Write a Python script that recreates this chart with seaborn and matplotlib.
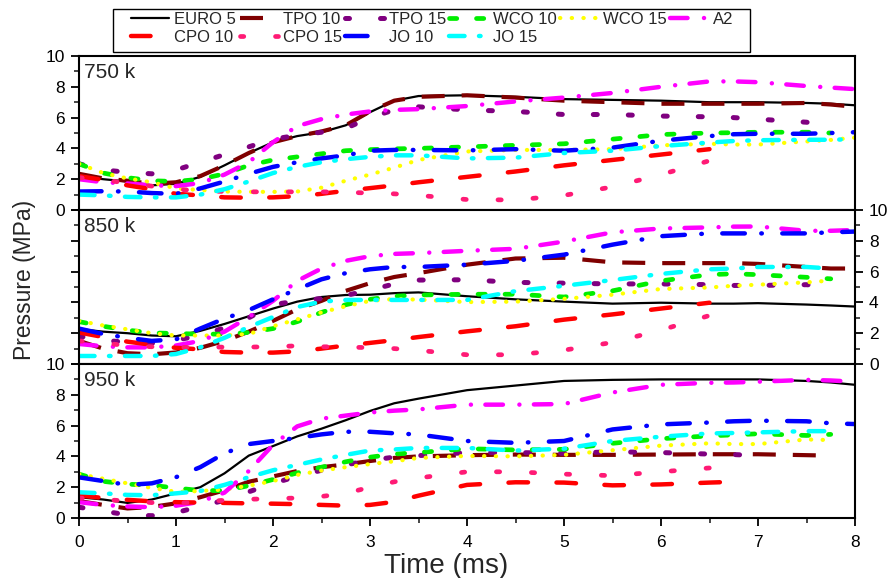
import numpy as np
import pandas as pd
import matplotlib
matplotlib.use("Agg")
import matplotlib.pyplot as plt
from matplotlib.patches import Rectangle
import seaborn as sns

nan = np.nan

# ---------------- data ----------------
time_ms = [0, 0.25, 0.5, 0.75, 1, 1.25, 1.5, 1.75, 2, 2.25, 2.5, 2.75, 3, 3.25, 3.5,
           4, 4.5, 5, 5.5, 6, 6.5, 6.75, 7, 7.5, 7.75, 8]

series_names = ["EURO 5", "TPO 10", "TPO 15", "WCO 10", "WCO 15", "A2",
                "CPO 10", "CPO 15", "JO 10", "JO 15"]
panel_labels = ["750 k", "850 k", "950 k"]

# 750 k
euro5_750 = [2.2, 2.0, 1.85, 1.6, 1.7, 2.15, 2.9, 3.7, 4.4, 4.8, 5.05, 5.5, 6.35, 7.1, 7.4,
             7.45, 7.35, 7.2, 7.15, 7.1, 7.0, 7.0, 7.0, 6.95, 6.9, 6.8]
tpo10_750 = [2.35, 2.05, 1.9, 1.7, 1.8, 2.2, 2.9, 3.7, 4.4, 4.8, 5.1, 5.5, 6.4, 7.1, 7.35,
             7.45, 7.3, 7.1, 7.0, 6.9, 6.9, 6.9, 6.9, 6.95, 6.85, 6.7]
tpo15_750 = [3.0, 2.6, 2.45, 2.35, 2.6, 3.1, 3.6, 4.1, 4.6, 4.85, 5.05, 5.3, 6.0, 6.5, 6.7,
             6.5, 6.4, 6.2, 6.2, 6.1, 6.05, 6.0, 5.9, 5.7, 5.5, nan]
wco10_750 = [3.0, 2.4, 2.1, 1.9, 1.85, 2.0, 2.35, 2.9, 3.25, 3.45, 3.65, 3.85, 3.92, 3.97, 4.0,
             4.1, 4.2, 4.3, 4.6, 4.9, 5.0, 5.02, 5.05, 5.05, 5.0, nan]
wco15_750 = [3.0, 2.4, 2.05, 1.8, 1.4, 1.3, 1.2, 1.18, 1.18, 1.2, 1.45, 1.9, 2.3, 2.75, 3.25,
             3.8, 3.9, 3.9, 3.95, 4.2, 4.3, 4.25, 4.25, 4.45, 4.55, 4.7]
a2_750 = [2.0, 1.8, 1.72, 1.6, 1.55, 1.75, 2.3, 3.1, 4.4, 5.45, 5.9, 6.2, 6.4, 6.5, 6.55,
          6.75, 7.05, 7.3, 7.6, 8.0, 8.35, 8.35, 8.3, 8.05, 7.95, 7.85]
cpo10_750 = [2.2, 1.95, 1.6, 1.35, 1.05, 0.95, 0.82, 0.8, 0.82, 0.9, 1.05, 1.25, 1.42, 1.6, 1.8,
             2.15, 2.5, 2.9, 3.25, 3.6, 3.95, nan, nan, nan, nan, nan]
cpo15_750 = [2.1, 1.95, 1.75, 1.55, 1.35, 1.25, 1.2, 1.18, 1.18, 1.18, 1.18, 1.15, 1.1, 1.05, 0.95,
             0.68, 0.65, 0.95, 1.5, 2.3, 3.2, 3.75, nan, nan, nan, nan]
jo10_750 = [1.2, 1.22, 1.2, 1.1, 1.05, 1.4, 1.85, 2.35, 2.8, 3.1, 3.35, 3.55, 3.85, 3.9, 3.9,
            3.87, 3.95, 3.85, 4.05, 4.5, 4.8, 4.92, 4.95, 4.95, 5.0, 5.05]
jo15_750 = [1.0, 0.95, 0.85, 0.82, 0.82, 1.0, 1.35, 1.85, 2.4, 2.8, 3.1, 3.3, 3.45, 3.55, 3.55,
            3.35, 3.4, 3.7, 3.85, 4.15, 4.38, 4.48, 4.53, 4.56, 4.56, 4.6]

# 850 k
euro5_850 = [2.27, 2.1, 2.0, 1.85, 1.8, 2.15, 2.6, 3.1, 3.6, 4.05, 4.35, 4.48, 4.5, 4.6, 4.65,
             4.4, 4.2, 4.05, 3.92, 3.98, 3.92, 3.92, 3.95, 3.86, 3.8, 3.73]
tpo10_850 = [1.5, 1.0, 0.7, 0.63, 0.75, 1.05, 1.5, 2.1, 2.8, 3.55, 4.1, 4.75, 5.25, 5.65, 5.9,
             6.45, 6.85, 6.9, 6.6, 6.55, 6.55, 6.55, 6.5, 6.3, 6.2, 6.2]
tpo15_850 = [1.8, 1.55, 1.4, 1.35, 1.55, 1.85, 2.35, 3.0, 3.85, 4.1, 4.25, 4.45, 4.8, 5.2, 5.45,
             5.47, 5.3, 5.25, 5.2, 5.2, 5.15, 5.1, 5.1, 5.15, 5.03, nan]
wco10_850 = [2.75, 2.45, 2.2, 2.02, 1.98, 1.94, 1.94, 2.05, 2.3, 2.75, 3.35, 3.85, 4.2, 4.4, 4.48,
             4.53, 4.53, 4.35, 4.75, 5.4, 5.8, 5.86, 5.8, 5.63, 5.53, nan]
wco15_850 = [2.8, 2.5, 2.25, 2.0, 1.85, 1.85, 1.85, 1.95, 2.45, 2.9, 3.35, 3.75, 4.1, 4.22, 4.18,
             4.02, 4.05, 4.23, 4.5, 4.87, 4.97, 5.08, 5.15, 5.3, 5.42, nan]
a2_850 = [1.3, 1.15, 1.08, 1.08, 1.2, 1.5, 2.1, 3.05, 4.1, 5.4, 6.2, 6.7, 7.0, 7.15, 7.2,
          7.35, 7.48, 7.95, 8.55, 8.8, 8.87, 8.92, 8.93, 8.65, 8.65, 8.7]
cpo10_850 = [2.05, 1.75, 1.45, 1.25, 1.05, 0.95, 0.78, 0.74, 0.74, 0.82, 1.0, 1.2, 1.37, 1.55, 1.75,
             2.12, 2.45, 2.88, 3.22, 3.6, 3.98, nan, nan, nan, nan, nan]
cpo15_850 = [1.5, 1.35, 1.2, 1.12, 1.08, 1.08, 1.1, 1.1, 1.12, 1.18, 1.12, 1.1, 1.06, 1.0, 0.88,
             0.6, 0.6, 0.9, 1.4, 2.2, 3.15, 3.7, nan, nan, nan, nan]
jo10_850 = [2.3, 1.95, 1.7, 1.5, 1.6, 2.3, 2.95, 3.5, 4.2, 4.85, 5.5, 5.9, 6.15, 6.3, 6.3,
            6.45, 6.7, 7.1, 7.75, 8.3, 8.48, 8.48, 8.48, 8.48, 8.55, 8.6]
jo15_850 = [0.52, 0.52, 0.52, 0.52, 0.65, 1.08, 1.7, 2.4, 3.05, 3.7, 4.05, 4.16, 4.16, 4.16, 4.16,
            4.16, 4.73, 5.08, 5.45, 5.85, 6.15, 6.2, 6.3, 6.3, 6.2, nan]

# 950 k
euro5_950 = [1.35, 1.2, 0.98, 1.2, 1.6, 2.0, 2.9, 4.05, 4.67, 5.3, 5.8, 6.35, 6.95, 7.45, 7.75,
             8.3, 8.6, 8.9, 8.97, 9.0, 9.0, 9.0, 9.0, 8.9, 8.8, 8.65]
tpo10_950 = [1.1, 0.85, 0.62, 0.72, 0.95, 1.35, 1.8, 2.35, 2.7, 3.05, 3.3, 3.48, 3.7, 3.9, 4.0,
             4.08, 4.12, 4.1, 4.1, 4.12, 4.14, 4.14, 4.14, 4.08, 4.05, nan]
tpo15_950 = [0.7, 0.45, 0.2, 0.15, 0.35, 0.75, 1.15, 1.7, 2.25, 2.7, 3.1, 3.45, 3.75, 3.95, 4.05,
             4.25, 4.25, 4.2, 4.3, 4.25, 4.15, 4.12, 4.05, nan, nan, nan]
wco10_950 = [2.85, 2.38, 2.2, 2.12, 1.95, 1.78, 1.78, 2.1, 2.5, 2.93, 3.3, 3.65, 3.95, 4.15, 4.25,
             4.5, 4.42, 4.46, 4.85, 5.15, 5.33, 5.4, 5.47, 5.36, 5.43, nan]
wco15_950 = [2.85, 2.55, 2.25, 1.95, 1.7, 1.75, 1.85, 2.1, 2.4, 2.8, 3.08, 3.3, 3.5, 3.68, 3.9,
             4.03, 4.0, 4.1, 4.4, 4.7, 4.85, 4.8, 4.8, 5.1, 5.06, nan]
a2_950 = [1.03, 0.85, 0.75, 0.7, 0.8, 1.05, 1.65, 3.05, 4.75, 5.95, 6.45, 6.65, 6.85, 6.97, 7.05,
          7.36, 7.36, 7.4, 8.15, 8.65, 8.78, 8.8, 8.85, 8.97, 8.93, 8.85]
cpo10_950 = [1.46, 1.3, 1.18, 1.08, 1.03, 1.0, 0.98, 0.95, 0.93, 0.9, 0.85, 0.8, 0.85, 1.05, 1.45,
             2.15, 2.32, 2.3, 2.12, 2.18, 2.3, 2.35, nan, nan, nan, nan]
cpo15_950 = [1.3, 1.2, 1.1, 1.0, 0.95, 1.05, 1.15, 1.22, 1.25, 1.3, 1.4, 1.6, 2.0, 2.35, 2.6,
             3.0, 3.0, 2.85, 2.75, 3.0, 3.25, nan, nan, nan, nan, nan]
jo10_950 = [2.64, 2.4, 2.15, 2.25, 2.65, 3.3, 4.2, 4.8, 5.0, 5.2, 5.43, 5.6, 5.6, 5.5, 5.42,
            5.0, 4.88, 5.0, 5.75, 6.08, 6.2, 6.28, 6.32, 6.28, 6.15, 6.1]
jo15_950 = [1.67, 1.6, 1.5, 1.48, 1.6, 1.75, 2.15, 2.65, 3.1, 3.45, 3.8, 4.1, 4.38, 4.45, 4.55,
            4.55, 4.38, 4.5, 5.0, 5.28, 5.49, 5.52, 5.56, 5.64, 5.64, nan]

panel_750 = [euro5_750, tpo10_750, tpo15_750, wco10_750, wco15_750, a2_750,
             cpo10_750, cpo15_750, jo10_750, jo15_750]
panel_850 = [euro5_850, tpo10_850, tpo15_850, wco10_850, wco15_850, a2_850,
             cpo10_850, cpo15_850, jo10_850, jo15_850]
panel_950 = [euro5_950, tpo10_950, tpo15_950, wco10_950, wco15_950, a2_950,
             cpo10_950, cpo15_950, jo10_950, jo15_950]
panels = [panel_750, panel_850, panel_950]

# ---------------- styles ----------------
# color, linewidth (pt), visible dash pattern in px (None = solid), capstyle
styles = {
    "EURO 5": ("#000000", 1.6, None, "butt"),
    "TPO 10": ("#7F0000", 3.0, [23, 17], "butt"),
    "TPO 15": ("#800080", 3.6, [9, 26], "round"),
    "WCO 10": ("#00EE00", 3.4, [12, 15], "round"),
    "WCO 15": ("#FFFF00", 3.0, [4.5, 7.2], "round"),
    "A2":     ("#FF00FF", 3.2, [22, 12, 4, 10], "round"),
    "CPO 10": ("#FF0000", 3.2, [24, 24], "round"),
    "CPO 15": ("#FF1A75", 3.4, [8, 27], "round"),
    "JO 10":  ("#0000FF", 3.2, [27, 12, 5, 16], "round"),
    "JO 15":  ("#00FFFF", 3.2, [20, 10, 6, 10], "round"),
}

def make_ls(pattern, lw, cap):
    if pattern is None:
        return "-"
    lwpx = lw * 100 / 72.0
    out = []
    for i, v in enumerate(pattern):
        if cap == "round":
            v = max(v - lwpx, 0.05) if i % 2 == 0 else v + lwpx
        out.append(v / lwpx)
    return (0, tuple(out))

sns.set_style("ticks")
plt.rcParams["font.family"] = ["Liberation Sans", "DejaVu Sans"]

fig = plt.figure(figsize=(8.9, 5.78), dpi=100)
W, H = 890.0, 578.0
left, right = 79 / W, 855 / W
tops = [56, 210, 364]
ph = 154
axes = []
for t in tops:
    ax = fig.add_axes([left, 1 - (t + ph) / H, right - left, ph / H])
    axes.append(ax)

handles = {}
for pi, (ax, pdata) in enumerate(zip(axes, panels)):
    for name, vals in zip(series_names, pdata):
        c, lw, pat, cap = styles[name]
        df = pd.DataFrame({"t": time_ms, "p": vals}).dropna()
        sns.lineplot(data=df, x="t", y="p", ax=ax, color=c, linewidth=lw,
                     linestyle=make_ls(pat, lw, cap), estimator=None, errorbar=None,
                     sort=False, legend=False)
        ln = ax.lines[-1]
        ln.set_dash_capstyle(cap)
        ln.set_solid_capstyle("round")
        if pi == 0:
            handles[name] = ln
    ax.set_xlim(0, 8)
    ax.set_ylim(0, 10)
    ax.set_xlabel("")
    ax.set_ylabel("")
    for s in ax.spines.values():
        s.set_linewidth(1.5)
        s.set_color("black")
    ax.set_yticks(np.arange(0, 11, 2))
    ax.set_yticks(np.arange(1, 10, 2), minor=True)
    ax.set_xticks(np.arange(0, 9, 1))
    ax.set_xticks(np.arange(0.5, 8, 1), minor=True)
    ax.tick_params(axis="both", which="major", direction="out", length=6, width=1.3,
                   labelsize=12.5, colors="black", pad=4)
    ax.tick_params(axis="both", which="minor", direction="out", length=3.5, width=1.2)
    ax.tick_params(axis="x", which="major", pad=6)
    ax.tick_params(axis="y", which="both", left=True, right=False)
    if pi < 2:
        ax.tick_params(axis="x", which="both", bottom=False, labelbottom=False)
    if pi == 1:
        ax.tick_params(axis="y", which="both", labelleft=False, right=True, labelright=True)
    ax.text(0.007, 0.955, panel_labels[pi], transform=ax.transAxes, fontsize=15,
            va="top", ha="left")

fig.text(446 / W, 1 - 566 / H, "Time (ms)", fontsize=20, va="center", ha="center")
fig.text(25 / W, 1 - 280 / H, "Pressure (MPa)", rotation=90, fontsize=16.5,
         va="center", ha="center")

order = ["EURO 5", "CPO 10", "TPO 10", "CPO 15", "TPO 15", "JO 10",
         "WCO 10", "JO 15", "WCO 15", "A2"]
leg = fig.legend([handles[n] for n in order], order, loc="upper left",
                 bbox_to_anchor=(131 / W, 1 - 12 / H), ncol=6, frameon=False,
                 fontsize=12, borderpad=0,
                 handlelength=2.3, handletextpad=0.3, columnspacing=0.2,
                 labelspacing=0.15, borderaxespad=0)
fig.add_artist(Rectangle((113 / W, 1 - 52 / H), (750 - 113) / W, 43 / H,
                         transform=fig.transFigure, fill=False,
                         edgecolor="black", linewidth=1.0))

fig.savefig("out.png", dpi=100)
